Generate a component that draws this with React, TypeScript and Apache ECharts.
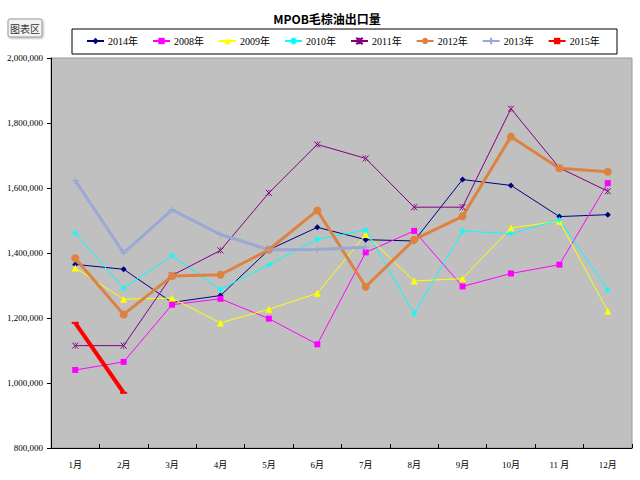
import React, { useEffect, useRef } from "react";
import * as echarts from "echarts";

const months = ["1月", "2月", "3月", "4月", "5月", "6月", "7月", "8月", "9月", "10月", "11 月", "12月"];
const s2014 = [1365000, 1350000, 1248000, 1269000, 1410000, 1479000, 1441000, 1437000, 1626000, 1608000, 1512000, 1518000];
const s2008 = [1040000, 1065000, 1241000, 1259000, 1198000, 1119000, 1402000, 1468000, 1297000, 1337000, 1364000, 1615000];
const s2009 = [1354000, 1258000, 1261000, 1185000, 1227000, 1276000, 1457000, 1314000, 1321000, 1477000, 1498000, 1221000];
const s2010 = [1461000, 1292000, 1392000, 1288000, 1364000, 1442000, 1471000, 1213000, 1468000, 1459000, 1502000, 1287000];
const s2011 = [1115000, 1115000, 1331000, 1408000, 1585000, 1734000, 1691000, 1541000, 1541000, 1844000, 1662000, 1590000];
const s2012 = [1384000, 1211000, 1329000, 1333000, 1410000, 1531000, 1296000, 1441000, 1513000, 1758000, 1661000, 1650000];
const s2013 = [1623000, 1400000, 1533000, 1457000, 1410000, 1411000, 1418000, null, null, null, null, null];
const s2015 = [1185000, 970000, null, null, null, null, null, null, null, null, null, null];
const yTicks = { min: 800000, max: 2000000, interval: 200000 };

const asterisk = "path://M5,0L5,10M0,5L10,5M1.5,1.5L8.5,8.5M8.5,1.5L1.5,8.5";
const xMark = "path://M0,0L10,10M10,0L0,10M5,0L5,2M5,8L5,10";
const plusMark = "path://M5,0L5,10M0,5L10,5";

export default function App() {
  const ref = useRef<HTMLDivElement>(null);
  useEffect(() => {
    const chart = echarts.init(ref.current!, undefined, { renderer: "svg" });
    const mk = (name: string, data: any[], color: string, symbol: string, size: any, width: number, stroke = false) => ({
      name,
      type: "line",
      data,
      symbol,
      symbolSize: size,
      showSymbol: true,
      lineStyle: { color, width },
      itemStyle: stroke ? { color, borderColor: color, borderWidth: 1 } : { color, borderWidth: 0 },
      emphasis: { disabled: true },
      connectNulls: false,
    });
    chart.setOption({
      animation: false,
      backgroundColor: "#ffffff",
      title: {
        text: "MPOB毛棕油出口量",
        left: 322,
        textAlign: "center",
        top: 7,
        textStyle: { fontSize: 12, fontWeight: "bold", color: "#000", fontFamily: "Noto Sans CJK SC" },
      },
      legend: {
        orient: "horizontal",
        left: 86,
        top: 36,
        width: 540,
        padding: 0,
        itemWidth: 17,
        itemHeight: 8,
        itemGap: 14,
        textStyle: { fontSize: 10, color: "#000", fontFamily: "Liberation Serif, Noto Sans CJK SC", padding: [0, 0, 0, -1] },
        data: ["2014年", "2008年", "2009年", "2010年", "2011年", "2012年", "2013年", "2015年"],
      },
      graphic: [
        {
          type: "rect",
          shape: { x: 72, y: 29, width: 545, height: 25 },
          style: { fill: "#fff", stroke: "#000", lineWidth: 1 },
          z: -1,
        },
        {
          type: "rect",
          shape: { x: 8, y: 19, width: 34, height: 18, r: 2 },
          style: { fill: "#f4f4f4", stroke: "#9a9a9a", lineWidth: 1, shadowColor: "rgba(0,0,0,0.3)", shadowBlur: 2, shadowOffsetX: 1, shadowOffsetY: 1 },
        },
        {
          type: "text",
          x: 25,
          y: 28,
          style: { text: "图表区", fontSize: 10, fill: "#333", textAlign: "center", textVerticalAlign: "middle", fontFamily: "Noto Sans CJK SC" },
        },
      ],
      grid: {
        left: 51,
        right: 8,
        top: 58,
        bottom: 32,
        show: true,
        backgroundColor: "#c0c0c0",
        borderColor: "#999",
        borderWidth: 1,
      },
      xAxis: {
        type: "category",
        data: months,
        boundaryGap: true,
        axisLine: { lineStyle: { color: "#000", width: 1 } },
        axisTick: { show: true, length: 4, inside: true, lineStyle: { color: "#000" } },
        axisLabel: { fontSize: 9, color: "#000", margin: 12, fontFamily: "Liberation Serif, Noto Sans CJK SC" },
      },
      yAxis: {
        type: "value",
        min: yTicks.min,
        max: yTicks.max,
        interval: yTicks.interval,
        axisLine: { show: true, lineStyle: { color: "#000", width: 1 } },
        axisTick: { show: true, length: 4, lineStyle: { color: "#000" } },
        axisLabel: {
          fontSize: 9,
          color: "#000",
          margin: 8,
          fontFamily: "Liberation Serif",
          formatter: (v: number) => v.toLocaleString("en-US"),
        },
        splitLine: {
          show: true,
          lineStyle: { color: "#000", width: 1, shadowColor: "#ffffff", shadowOffsetY: 1.5, shadowBlur: 0 },
        },
      },
      series: [
        mk("2014年", s2014, "#000080", "diamond", 6, 1),
        mk("2008年", s2008, "#ff00ff", "rect", 6, 1),
        mk("2009年", s2009, "#ffff00", "triangle", 7, 1),
        mk("2010年", s2010, "#00ffff", asterisk, 6, 1, true),
        mk("2011年", s2011, "#800080", xMark, 6, 1, true),
        mk("2012年", s2012, "#de8240", "circle", 8, 3),
        mk("2013年", s2013, "#99a8d4", plusMark, 8, 3, true),
        mk("2015年", s2015, "#ff0000", "rect", [7, 2], 4),
      ],
    });
    return () => chart.dispose();
  }, []);
  return <div ref={ref} style={{ position: "fixed", left: 0, top: 0, width: 640, height: 480 }} />;
}
